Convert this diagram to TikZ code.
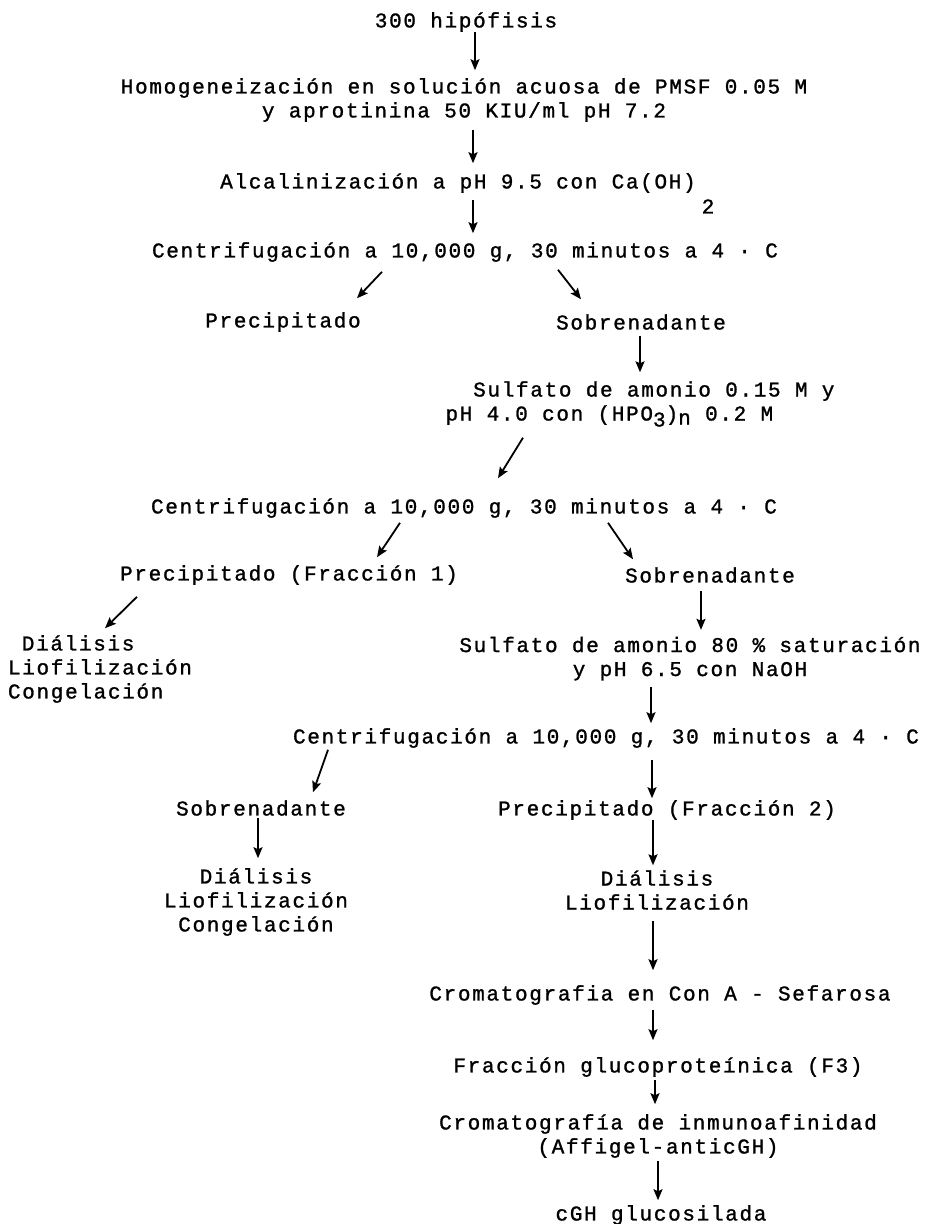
\documentclass[tikz,border=0pt]{standalone}
\usepackage{fontspec}
\setmonofont[LetterSpace=8.0, FakeBold=1.2]{Liberation Mono}
\usetikzlibrary{arrows.meta}
\tikzset{
  steparrow/.style={-{Stealth[length=11pt, width=9pt, inset=2pt]}, line width=1.8pt},
  stepnode/.style={inner sep=0pt, outer sep=0pt, align=center, font=\ttfamily\fontsize{21}{24}\selectfont}
}
\begin{document}
\begin{tikzpicture}[x=1pt, y=-1pt, every node/.style={stepnode}]
  \fill[white] (0,0) rectangle (926,1224);
  \useasboundingbox (0,0) rectangle (926,1224);
  \node (hip) at (466,22) {300 hipófisis};
  \node (homog) at (464,100) {Homogeneización en solución acuosa de PMSF 0.05 M\\y aprotinina 50 KIU/ml pH 7.2};
  \node (alcal) at (458,183) {Alcalinización a pH 9.5 con Ca(OH)\rlap{\hspace{6pt}\smash{\raisebox{-25pt}{2}}}};
  \node (centa) at (465,252) {Centrifugación a 10,000 g, 30 minutos a 4 · C};
  \node (preca) at (283,322) {Precipitado};
  \node (sobra) at (641,322) {Sobrenadante};
  \node[align=left] (sulfa) at (640,404) {\hspace*{27.7pt}Sulfato de amonio 0.15 M y\\pH 4.0 con (HPO\raisebox{-6pt}{3})\raisebox{-4pt}{n} 0.2 M};
  \node (centb) at (464,508) {Centrifugación a 10,000 g, 30 minutos a 4 · C};
  \node (precb) at (289,575) {Precipitado (Fracción 1)};
  \node (sobrb) at (710,575) {Sobrenadante};
  \node[align=left, anchor=west] (dialb) at (8,669) {\hspace*{13.85pt}Diálisis\\Liofilización\\Congelación};
  \node (sulfb) at (690,658.6) {Sulfato de amonio 80 \% saturación\\y pH 6.5 con NaOH};
  \node (centc) at (606,738) {Centrifugación a 10,000 g, 30 minutos a 4 · C};
  \node (sobrc) at (261,808) {Sobrenadante};
  \node (precc) at (667,810) {Precipitado (Fracción 2)};
  \node (dialc) at (256,902) {Diálisis\\Liofilización\\Congelación};
  \node (diald) at (657,890) {Diálisis\\Liofilización};
  \node (croma) at (660,995) {Cromatografia en Con A - Sefarosa};
  \node (fracg) at (658,1067) {Fracción glucoproteínica (F3)};
  \node (cromb) at (658,1136) {Cromatografía de inmunoafinidad\\(Affigel-anticGH)};
  \node (cgh) at (661,1215) {cGH glucosilada};
  \draw[steparrow] ([shift={(9,0)}]hip.south) -- ([shift={(11,-8)}]homog.north);
  \draw[steparrow] ([shift={(9,8)}]homog.south) -- ([shift={(15,-10)}]alcal.north);
  \draw[steparrow] ([shift={(15,7)}]alcal.south) -- ([shift={(8,-9)}]centa.north);
  \draw[steparrow] ([shift={(-83,10)}]centa.south) -- ([shift={(74,-14)}]preca.north);
  \draw[steparrow] ([shift={(93,8)}]centa.south) -- ([shift={(-60,-15)}]sobra.north);
  \draw[steparrow] ([shift={(-1,6)}]sobra.south) -- ([shift={(0,-9)}]sulfa.north);
  \draw[steparrow] ([shift={(-117,11)}]sulfa.south) -- ([shift={(34,-20)}]centb.north);
  \draw[steparrow] ([shift={(-64,5)}]centb.south) -- ([shift={(88,-8)}]precb.north);
  \draw[steparrow] ([shift={(144,5)}]centb.south) -- ([shift={(-77,-8)}]sobrb.north);
  \draw[steparrow] ([shift={(-152,12)}]precb.south) -- ([shift={(97,-7)}]dialb.north west);
  \draw[steparrow] ([shift={(-9,8)}]sobrb.south) -- ([shift={(11,-7)}]sulfb.north);
  \draw[steparrow] ([shift={(-39,7)}]sulfb.south) -- ([shift={(45,-5)}]centc.north);
  \draw[steparrow] ([shift={(-278,2)}]centc.south) -- ([shift={(52,-8)}]sobrc.north);
  \draw[steparrow] ([shift={(46,12)}]centc.south) -- ([shift={(-15,-2)}]precc.north);
  \draw[steparrow] ([shift={(-3,2)}]sobrc.south) -- ([shift={(2,-10)}]dialc.north);
  \draw[steparrow] ([shift={(-14,0)}]precc.south) -- ([shift={(-4,-5)}]diald.north);
  \draw[steparrow] ([shift={(-4,11)}]diald.south) -- ([shift={(-7,-15)}]croma.north);
  \draw[steparrow] ([shift={(-7,5)}]croma.south) -- ([shift={(-5,-17)}]fracg.north);
  \draw[steparrow] ([shift={(-3,3)}]fracg.south) -- ([shift={(-3,-10)}]cromb.north);
  \draw[steparrow] ([shift={(0,3)}]cromb.south) -- ([shift={(-3,-5)}]cgh.north);
\end{tikzpicture}
\end{document}
